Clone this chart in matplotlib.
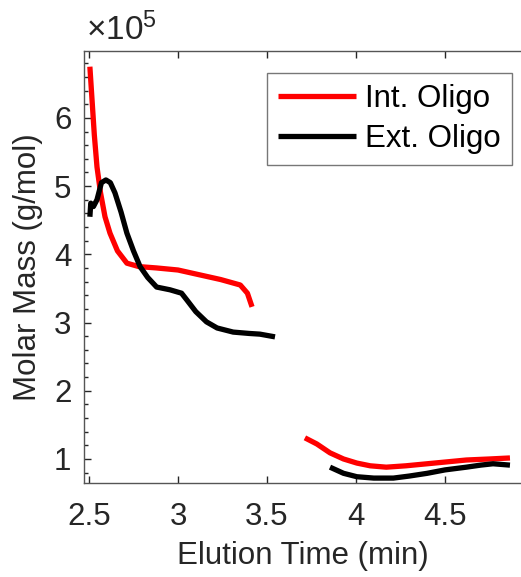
import matplotlib
matplotlib.use("Agg")
import matplotlib.pyplot as plt
from matplotlib.ticker import MultipleLocator, FuncFormatter

plt.rcParams['font.family'] = ['Liberation Sans', 'DejaVu Sans']
plt.rcParams['mathtext.fontset'] = 'custom'
plt.rcParams['mathtext.rm'] = 'Liberation Sans'
plt.rcParams['mathtext.it'] = 'Liberation Sans'

# Int. Oligo, first peak
int1_t = [2.505, 2.515, 2.53, 2.545, 2.565, 2.59, 2.618, 2.66, 2.713, 2.78, 2.88, 3.0, 3.12, 3.24, 3.35, 3.39, 3.416]
int1_m = [6.75, 6.35, 5.75, 5.28, 4.9, 4.55, 4.31, 4.05, 3.87, 3.82, 3.80, 3.77, 3.70, 3.63, 3.55, 3.43, 3.23]
# Int. Oligo, second peak
int2_t = [3.713, 3.78, 3.854, 3.93, 4.005, 4.08, 4.17, 4.28, 4.40, 4.52, 4.62, 4.75, 4.865]
int2_m = [1.31, 1.22, 1.09, 1.00, 0.94, 0.90, 0.88, 0.90, 0.93, 0.96, 0.985, 1.00, 1.015]
# Ext. Oligo, first peak
ext1_t = [2.505, 2.51, 2.525, 2.545, 2.57, 2.595, 2.62, 2.646, 2.68, 2.713, 2.75, 2.787, 2.83, 2.88, 2.955, 3.02, 3.05, 3.1, 3.16, 3.22, 3.31, 3.40, 3.46, 3.545]
ext1_m = [4.55, 4.75, 4.70, 4.80, 5.05, 5.09, 5.05, 4.90, 4.62, 4.31, 4.05, 3.82, 3.66, 3.52, 3.48, 3.43, 3.33, 3.16, 3.01, 2.92, 2.86, 2.84, 2.83, 2.79]
# Ext. Oligo, second peak
ext2_t = [3.854, 3.93, 4.005, 4.10, 4.21, 4.30, 4.40, 4.50, 4.62, 4.70, 4.77, 4.865]
ext2_m = [0.88, 0.79, 0.74, 0.72, 0.72, 0.75, 0.79, 0.84, 0.88, 0.91, 0.93, 0.91]

labels = ['Int. Oligo', 'Ext. Oligo']
scale = 1e5

fig = plt.figure(figsize=(5.21, 5.77), dpi=100)
ax = fig.add_axes([84/521, 94/577, 1 - 84/521, (483-51)/577])

tc = '#262626'
lw = 3.8
fs = 22.5
ax.plot(int1_t, [v*scale for v in int1_m], color='#ff0000', lw=lw, label=labels[0], solid_capstyle='butt')
ax.plot(ext1_t, [v*scale for v in ext1_m], color='black', lw=lw, label=labels[1], solid_capstyle='butt')
ax.plot(int2_t, [v*scale for v in int2_m], color='#ff0000', lw=lw, solid_capstyle='butt')
ax.plot(ext2_t, [v*scale for v in ext2_m], color='black', lw=lw, solid_capstyle='butt')

ax.set_xlim(2.472, 4.927)
ax.set_ylim(0.648*scale, 6.98*scale)
ax.xaxis.set_major_locator(MultipleLocator(0.5))
ax.yaxis.set_major_locator(MultipleLocator(1*scale))
ax.yaxis.set_minor_locator(MultipleLocator(0.2*scale))
ax.xaxis.set_major_formatter(FuncFormatter(lambda v, p: '%g' % round(v, 3)))
ax.yaxis.set_major_formatter(FuncFormatter(lambda v, p: '%g' % round(v/scale, 3)))

ax.tick_params(which='both', direction='in', top=True, right=False, colors=tc, labelsize=fs)
ax.tick_params(which='major', length=5, width=1)
ax.tick_params(which='minor', length=3, width=1)
ax.tick_params(axis='x', pad=14)
ax.tick_params(axis='y', pad=9)
for s in ['left', 'bottom', 'top']:
    ax.spines[s].set_color('#555555')
    ax.spines[s].set_linewidth(1)
ax.spines['right'].set_visible(False)

ax.set_xlabel('Elution Time (min)', fontsize=fs, color=tc, labelpad=6)
ax.set_ylabel('Molar Mass (g/mol)', fontsize=fs, color=tc, labelpad=8)

ax.text(0.005, 1.01, r'$\times10^{5}$', transform=ax.transAxes, fontsize=24, color=tc,
        ha='left', va='bottom')

leg = ax.legend(loc='upper right', bbox_to_anchor=(0.979, 0.949), fontsize=fs, frameon=True, fancybox=False,
                handlelength=2.5, borderpad=0.35, labelspacing=0.32, handletextpad=0.3, borderaxespad=0)
leg.get_frame().set_edgecolor('#555555')
leg.get_frame().set_linewidth(1)
for t in leg.get_texts():
    t.set_color('black')

fig.savefig('out.png', dpi=100)
